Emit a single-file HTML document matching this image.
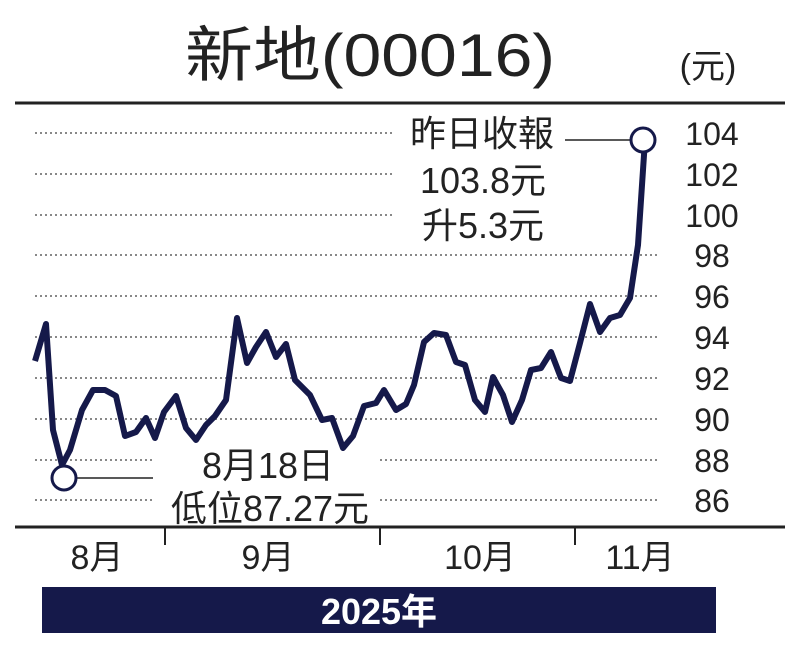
<!DOCTYPE html><html><head><meta charset="utf-8"><style>body{margin:0;background:#fff}svg text{font-family:"Liberation Sans","Noto Sans CJK TC",sans-serif}</style></head><body>
<svg width="800" height="659" xmlns="http://www.w3.org/2000/svg">
<rect width="800" height="659" fill="#fff"/>
<text x="370" y="76" font-size="60" text-anchor="middle" fill="#222" textLength="370" lengthAdjust="spacingAndGlyphs">新地(00016)</text>
<text x="708" y="78" font-size="34" text-anchor="middle" fill="#222">(元)</text>
<line x1="15" y1="103" x2="785" y2="103" stroke="#222" stroke-width="3"/>
<line x1="15" y1="527" x2="785" y2="527" stroke="#222" stroke-width="3"/>
<g stroke="#888" stroke-width="2" stroke-dasharray="2,3">
<line x1="35" y1="133" x2="395" y2="133"/><line x1="35" y1="174" x2="395" y2="174"/><line x1="35" y1="215" x2="395" y2="215"/>
<line x1="35" y1="255" x2="660" y2="255"/><line x1="35" y1="296" x2="660" y2="296"/><line x1="35" y1="337" x2="660" y2="337"/><line x1="35" y1="378" x2="660" y2="378"/><line x1="35" y1="419" x2="660" y2="419"/>
<line x1="35" y1="460" x2="155" y2="460"/><line x1="380" y1="460" x2="660" y2="460"/>
<line x1="35" y1="500" x2="155" y2="500"/><line x1="380" y1="500" x2="660" y2="500"/>
</g>
<g font-size="32" fill="#222" text-anchor="middle">
<text x="712" y="145">104</text><text x="712" y="186">102</text><text x="712" y="227">100</text><text x="712" y="267">98</text><text x="712" y="308">96</text><text x="712" y="349">94</text><text x="712" y="390">92</text><text x="712" y="431">90</text><text x="712" y="472">88</text><text x="712" y="512">86</text>
</g>
<polyline fill="none" stroke="#15194a" stroke-width="6" stroke-linejoin="round" points="35,361 46,324 53,430 62,465 70,450 82,410 93,390 105,390 116,396 125,436 136,432 146,418 155,438 164,412 176,396 186,428 196,440 206,425 215,416 226,400 237,318 247,363 256,347 266,332 276,357 286,344 295,380 310,395 322,420 332,418 343,448 353,436 364,406 376,403 384,390 396,410 406,404 414,385 424,342 434,333 446,335 456,362 465,365 475,400 485,412 493,377 503,395 512,422 522,400 531,370 541,368 551,352 561,378 570,381 580,343 590,304 600,332 610,318 620,315 630,298 638,245 645,140"/>
<line x1="76" y1="478" x2="153" y2="478" stroke="#222" stroke-width="1.5"/>
<circle cx="64" cy="478" r="12" fill="#fff" stroke="#15194a" stroke-width="3"/>
<line x1="565" y1="140" x2="631" y2="140" stroke="#222" stroke-width="1.5"/>
<circle cx="643" cy="140" r="12" fill="#fff" stroke="#15194a" stroke-width="3"/>
<g font-size="36" fill="#222" text-anchor="middle">
<text x="268" y="478">8月18日</text><text x="270" y="521">低位87.27元</text>
<text x="482" y="146">昨日收報</text><text x="483" y="193">103.8元</text><text x="483" y="238">升5.3元</text>
</g>
<g stroke="#222" stroke-width="2"><line x1="165" y1="527" x2="165" y2="545"/><line x1="380" y1="527" x2="380" y2="545"/><line x1="575" y1="527" x2="575" y2="545"/></g>
<g font-size="34" fill="#222" text-anchor="middle">
<text x="97" y="569">8月</text><text x="268" y="569">9月</text><text x="480" y="569">10月</text><text x="640" y="569">11月</text>
</g>
<rect x="42" y="587" width="674" height="46" fill="#15194a"/>
<text x="379" y="624" font-size="36" font-weight="bold" fill="#fff" text-anchor="middle">2025年</text>
</svg>
</body></html>
